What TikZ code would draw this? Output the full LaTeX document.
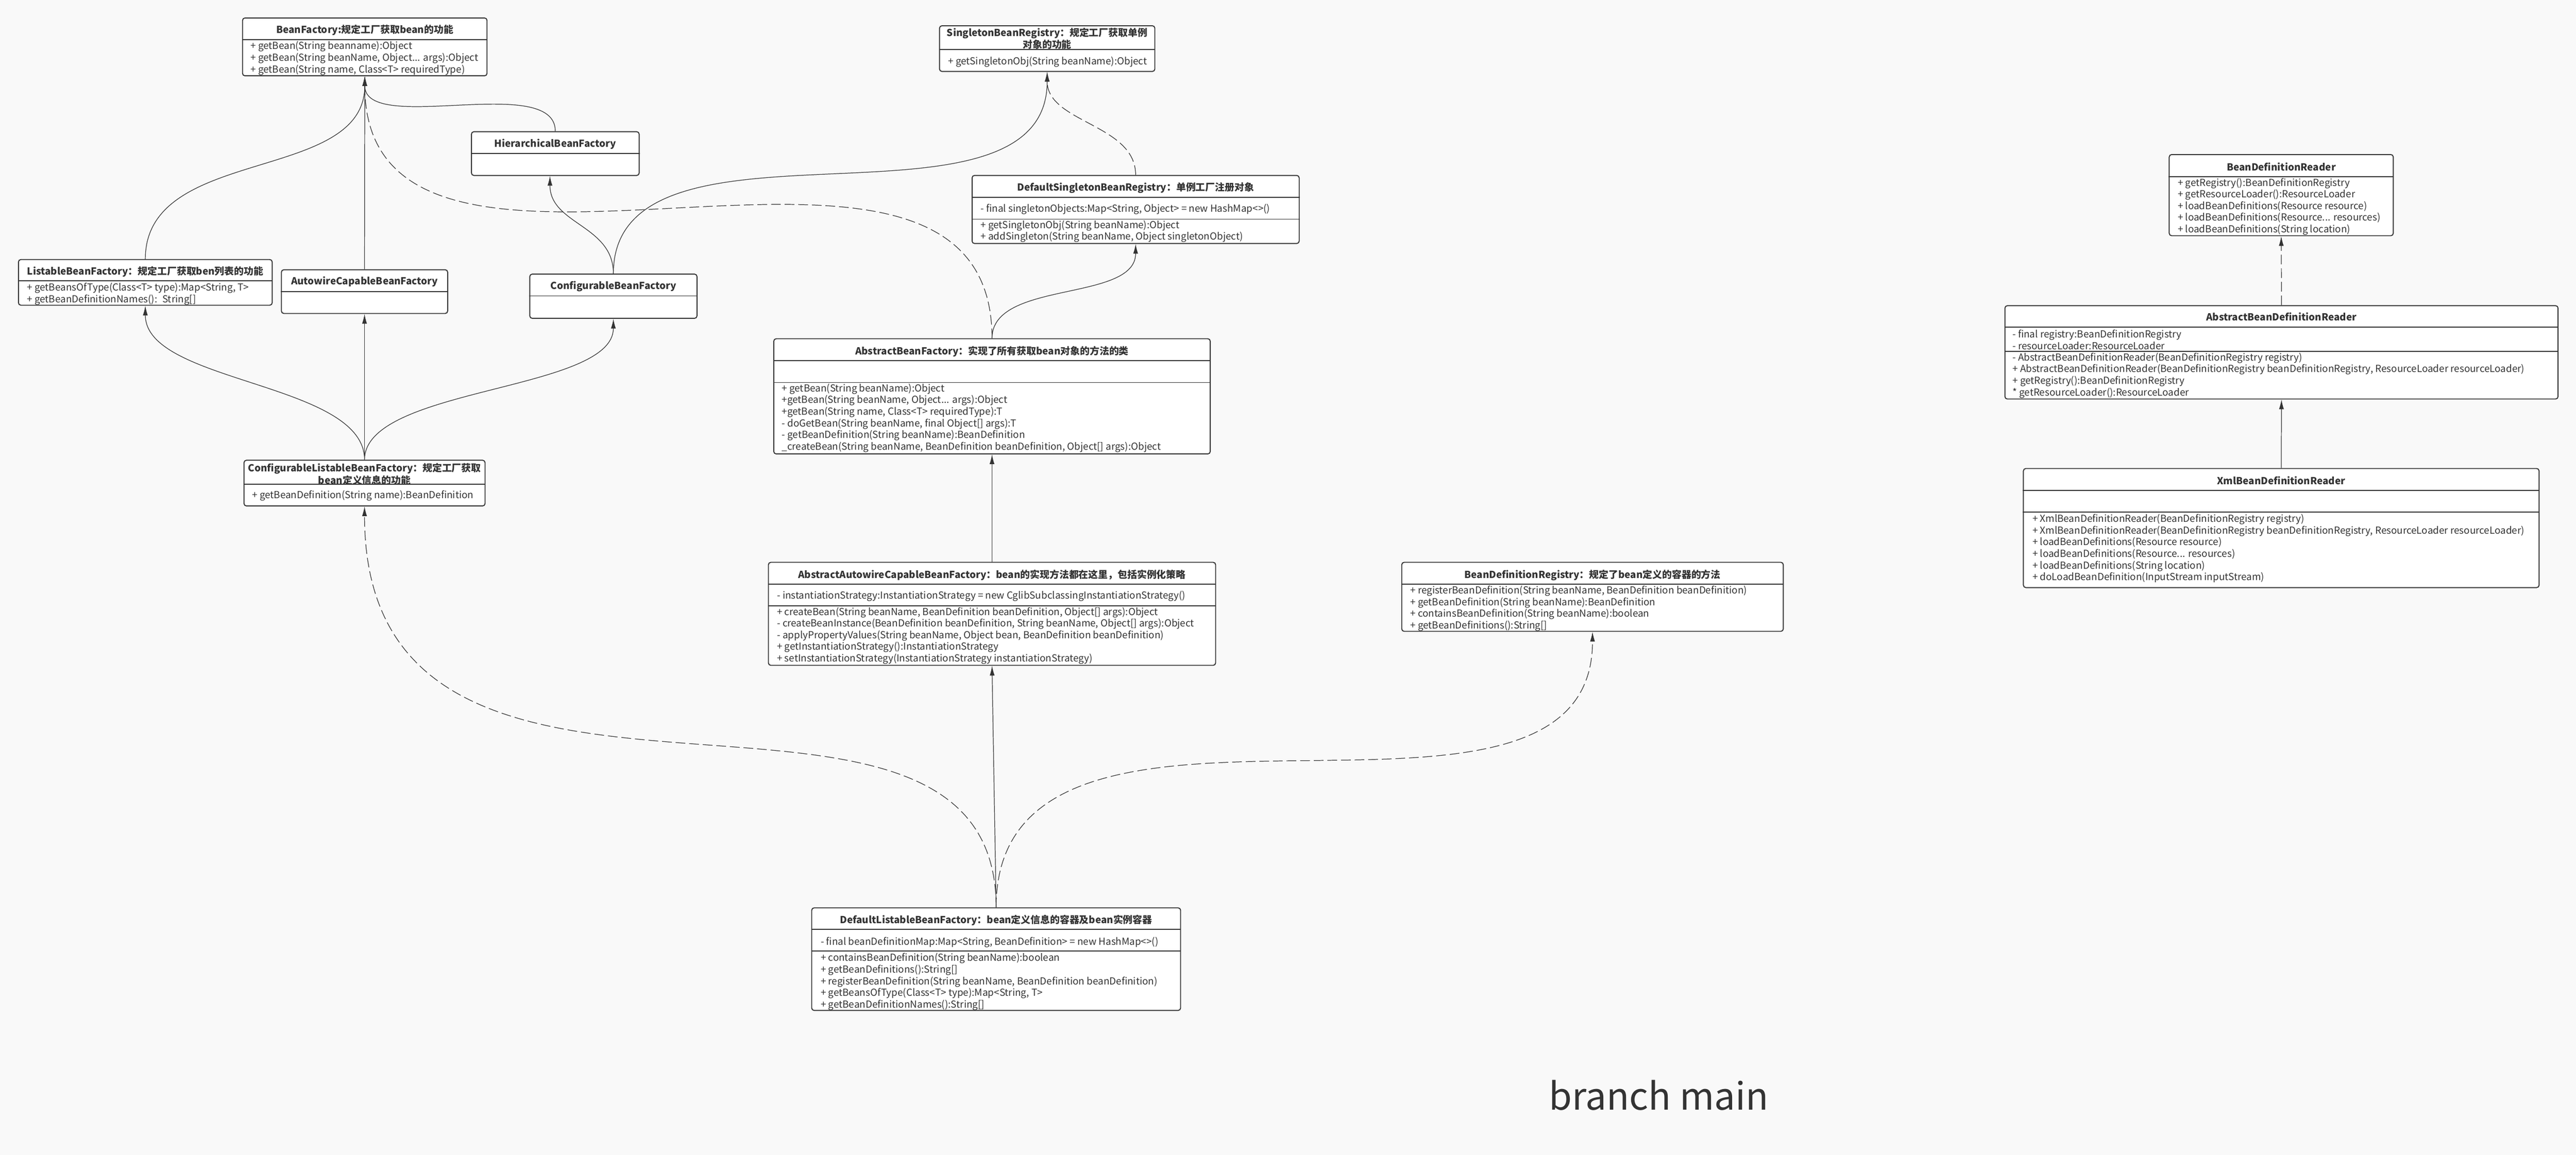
\documentclass[tikz,border=0pt]{standalone}
\usepackage{fontspec}
\setmainfont{Noto Sans CJK SC}
\usepackage{xcolor}
\usepackage{tikz}
\usetikzlibrary{arrows.meta}
\definecolor{linegray}{HTML}{333333}
\definecolor{textgray}{HTML}{333333}
\definecolor{bgcol}{HTML}{F9F9F9}
\tikzset{>={Latex[length=0.2cm,width=0.1cm]}}
\tikzset{
	cls/.style={draw=linegray,fill=white,line width=0.02cm,rounded corners=0.05cm,inner sep=0pt},
	ttl/.style={font=\fontsize{5.69pt}{6.83pt}\selectfont\bfseries,text=textgray,inner sep=0pt,align=center},
	mth/.style={font=\fontsize{5.69pt}{6.83pt}\selectfont,text=textgray,inner sep=0pt,align=left,anchor=west},
	divline/.style={draw=linegray,line width=0.02cm},
	extline/.style={->,draw=linegray,line width=0.013cm},
	implline/.style={extline,dash pattern=on 0.2cm off 0.08cm},
}

\begin{document}
\begin{tikzpicture}
	\useasboundingbox (0,0) rectangle (53,-23.76);
	\fill[bgcol] (0,0) rectangle (53,-23.76);
	% BeanFactory
	\node[cls,minimum width=5.03cm,minimum height=1.19cm] (bf) at (7.505,-0.965) {};
	\node[ttl] (bf-t) at (7.505,-0.62) {BeanFactory:规定工厂获取bean的功能};
	\draw[divline] (bf.west |- 0,-0.82) -- (bf.east |- 0,-0.82);
	\node[mth] (bf-m) at (5.15,-1.20) {+ getBean(String beanname):Object\\+ getBean(String beanName, Object... args):Object\\+ getBean(String name, Class<T> requiredType)};
	% SingletonBeanRegistry
	\node[cls,minimum width=4.43cm,minimum height=0.94cm] (sbr) at (21.545,-1.00) {};
	\node[ttl] (sbr-t) at (21.545,-0.79) {SingletonBeanRegistry：规定工厂获取单例\\对象的功能};
	\draw[divline] (sbr.west |- 0,-1.02) -- (sbr.east |- 0,-1.02);
	\node[mth] (sbr-m) at (19.50,-1.27) {+ getSingletonObj(String beanName):Object};
	% HierarchicalBeanFactory
	\node[cls,minimum width=3.45cm,minimum height=0.90cm] (hbf) at (11.425,-3.16) {};
	\node[ttl] (hbf-t) at (11.425,-2.96) {HierarchicalBeanFactory};
	\draw[divline] (hbf.west |- 0,-3.16) -- (hbf.east |- 0,-3.16);
	% DefaultSingletonBeanRegistry
	\node[cls,minimum width=6.73cm,minimum height=1.40cm] (dsbr) at (23.365,-4.31) {};
	\node[ttl] (dsbr-t) at (23.365,-3.87) {DefaultSingletonBeanRegistry：单例工厂注册对象};
	\draw[divline] (dsbr.west |- 0,-4.06) -- (dsbr.east |- 0,-4.06);
	\node[mth] (dsbr-f) at (20.17,-4.30) {- final singletonObjects:Map<String, Object> = new HashMap<>()};
	\draw[divline] (dsbr.west |- 0,-4.51) -- (dsbr.east |- 0,-4.51);
	\node[mth] (dsbr-m) at (20.17,-4.76) {+ getSingletonObj(String beanName):Object\\+ addSingleton(String beanName, Object singletonObject)};
	% ListableBeanFactory
	\node[cls,minimum width=5.22cm,minimum height=0.94cm] (lbf) at (2.99,-5.81) {};
	\node[ttl] (lbf-t) at (2.99,-5.59) {ListableBeanFactory：规定工厂获取ben列表的功能};
	\draw[divline] (lbf.west |- 0,-5.78) -- (lbf.east |- 0,-5.78);
	\node[mth] (lbf-m) at (0.55,-6.05) {+ getBeansOfType(Class<T> type):Map<String, T>\\+ getBeanDefinitionNames():~ String[]};
	% AutowireCapableBeanFactory
	\node[cls,minimum width=3.42cm,minimum height=0.90cm] (acbf) at (7.50,-6.00) {};
	\node[ttl] (acbf-t) at (7.50,-5.79) {AutowireCapableBeanFactory};
	\draw[divline] (acbf.west |- 0,-6.00) -- (acbf.east |- 0,-6.00);
	% ConfigurableBeanFactory
	\node[cls,minimum width=3.44cm,minimum height=0.91cm] (cbf) at (12.62,-6.095) {};
	\node[ttl] (cbf-t) at (12.62,-5.89) {ConfigurableBeanFactory};
	\draw[divline] (cbf.west |- 0,-6.09) -- (cbf.east |- 0,-6.09);
	% AbstractBeanFactory
	\node[cls,minimum width=8.98cm,minimum height=2.37cm] (abf) at (20.41,-8.155) {};
	\node[ttl] (abf-t) at (20.41,-7.23) {AbstractBeanFactory：实现了所有获取bean对象的方法的类};
	\draw[divline] (abf.west |- 0,-7.42) -- (abf.east |- 0,-7.42);
	\draw[divline] (abf.west |- 0,-7.87) -- (abf.east |- 0,-7.87);
	\node[mth] (abf-m) at (16.08,-8.60) {+ getBean(String beanName):Object\\+getBean(String beanName, Object... args):Object\\+getBean(String name, Class<T> requiredType):T\\- doGetBean(String beanName, final Object[] args):T\\- getBeanDefinition(String beanName):BeanDefinition\\\_createBean(String beanName, BeanDefinition beanDefinition, Object[] args):Object};
	% ConfigurableListableBeanFactory
	\node[cls,minimum width=4.96cm,minimum height=0.94cm] (clbf) at (7.50,-9.94) {};
	\node[ttl,font=\fontsize{5.69pt}{5.12pt}\selectfont\bfseries] (clbf-t) at (7.50,-9.755) {ConfigurableListableBeanFactory：规定工厂获取\\bean定义信息的功能};
	\draw[divline] (clbf.west |- 0,-9.96) -- (clbf.east |- 0,-9.96);
	\node[mth] (clbf-m) at (5.18,-10.20) {+ getBeanDefinition(String name):BeanDefinition};
	% AbstractAutowireCapableBeanFactory
	\node[cls,minimum width=9.20cm,minimum height=2.12cm] (aacbf) at (20.41,-12.63) {};
	\node[ttl] (aacbf-t) at (20.41,-11.83) {AbstractAutowireCapableBeanFactory：bean的实现方法都在这里，包括实例化策略};
	\draw[divline] (aacbf.west |- 0,-12.02) -- (aacbf.east |- 0,-12.02);
	\node[mth] (aacbf-f) at (15.98,-12.27) {- instantiationStrategy:InstantiationStrategy = new CglibSubclassingInstantiationStrategy()};
	\draw[divline] (aacbf.west |- 0,-12.47) -- (aacbf.east |- 0,-12.47);
	\node[mth] (aacbf-m) at (15.98,-13.08) {+ createBean(String beanName, BeanDefinition beanDefinition, Object[] args):Object\\- createBeanInstance(BeanDefinition beanDefinition, String beanName, Object[] args):Object\\- applyPropertyValues(String beanName, Object bean, BeanDefinition beanDefinition)\\+ getInstantiationStrategy():InstantiationStrategy\\+ setInstantiationStrategy(InstantiationStrategy instantiationStrategy)};
	% BeanDefinitionRegistry
	\node[cls,minimum width=7.85cm,minimum height=1.42cm] (bdr) at (32.765,-12.28) {};
	\node[ttl] (bdr-t) at (32.765,-11.84) {BeanDefinitionRegistry：规定了bean定义的容器的方法};
	\draw[divline] (bdr.west |- 0,-12.02) -- (bdr.east |- 0,-12.02);
	\node[mth] (bdr-m) at (29.01,-12.52) {+ registerBeanDefinition(String beanName, BeanDefinition beanDefinition)\\+ getBeanDefinition(String beanName):BeanDefinition\\+ containsBeanDefinition(String beanName):boolean\\+ getBeanDefinitions():String[]};
	% DefaultListableBeanFactory
	\node[cls,minimum width=7.59cm,minimum height=2.11cm] (dlbf) at (20.495,-19.735) {};
	\node[ttl] (dlbf-t) at (20.495,-18.93) {DefaultListableBeanFactory：bean定义信息的容器及bean实例容器};
	\draw[divline] (dlbf.west |- 0,-19.12) -- (dlbf.east |- 0,-19.12);
	\node[mth] (dlbf-f) at (16.88,-19.39) {- final beanDefinitionMap:Map<String, BeanDefinition> = new HashMap<>()};
	\draw[divline] (dlbf.west |- 0,-19.57) -- (dlbf.east |- 0,-19.57);
	\node[mth] (dlbf-m) at (16.88,-20.20) {+ containsBeanDefinition(String beanName):boolean\\+ getBeanDefinitions():String[]\\+ registerBeanDefinition(String beanName, BeanDefinition beanDefinition)\\+ getBeansOfType(Class<T> type):Map<String, T>\\+ getBeanDefinitionNames():String[]};
	% BeanDefinitionReader
	\node[cls,minimum width=4.61cm,minimum height=1.67cm] (bdreader) at (46.935,-4.015) {};
	\node[ttl] (bdreader-t) at (46.935,-3.43) {BeanDefinitionReader};
	\draw[divline] (bdreader.west |- 0,-3.64) -- (bdreader.east |- 0,-3.64);
	\node[mth] (bdreader-m) at (44.80,-4.25) {+ getRegistry():BeanDefinitionRegistry\\+ getResourceLoader():ResourceLoader\\+ loadBeanDefinitions(Resource resource)\\+ loadBeanDefinitions(Resource... resources)\\+ loadBeanDefinitions(String location)};
	% AbstractBeanDefinitionReader
	\node[cls,minimum width=11.38cm,minimum height=1.92cm] (abdr) at (46.94,-7.25) {};
	\node[ttl] (abdr-t) at (46.94,-6.52) {AbstractBeanDefinitionReader};
	\draw[divline] (abdr.west |- 0,-6.73) -- (abdr.east |- 0,-6.73);
	\node[mth] (abdr-f) at (41.40,-6.99) {- final registry:BeanDefinitionRegistry\\- resourceLoader:ResourceLoader};
	\draw[divline] (abdr.west |- 0,-7.23) -- (abdr.east |- 0,-7.23);
	\node[mth] (abdr-m) at (41.40,-7.725) {- AbstractBeanDefinitionReader(BeanDefinitionRegistry registry)\\+ AbstractBeanDefinitionReader(BeanDefinitionRegistry beanDefinitionRegistry, ResourceLoader resourceLoader)\\+ getRegistry():BeanDefinitionRegistry\\* getResourceLoader():ResourceLoader};
	% XmlBeanDefinitionReader
	\node[cls,minimum width=10.61cm,minimum height=2.45cm] (xbdr) at (46.935,-10.865) {};
	\node[ttl] (xbdr-t) at (46.935,-9.89) {XmlBeanDefinitionReader};
	\draw[divline] (xbdr.west |- 0,-10.09) -- (xbdr.east |- 0,-10.09);
	\draw[divline] (xbdr.west |- 0,-10.54) -- (xbdr.east |- 0,-10.54);
	\node[mth] (xbdr-m) at (41.81,-11.285) {+ XmlBeanDefinitionReader(BeanDefinitionRegistry registry)\\+ XmlBeanDefinitionReader(BeanDefinitionRegistry beanDefinitionRegistry, ResourceLoader resourceLoader)\\+ loadBeanDefinitions(Resource resource)\\+ loadBeanDefinitions(Resource... resources)\\+ loadBeanDefinitions(String location)\\+ doLoadBeanDefinition(InputStream inputStream)};
	% connectors
	\draw[extline] (lbf.north) .. controls +(0,2.34) and +(0,-2.21) .. (bf.south);
	\draw[extline] (acbf.north) -- (bf.south);
	\draw[extline] (hbf.north) .. controls +(0,1.21) and +(0,-1.22) .. (bf.south);
	\draw[extline] (cbf.north) .. controls +(0,1) and +(0,-1) .. ([xshift=-0.11cm]hbf.south);
	\draw[extline] (cbf.north) .. controls +(0,3.65) and +(0,-3.65) .. (sbr.south);
	\draw[implline] (abf.north) .. controls +(0,5.97) and +(0,-5.94) .. (bf.south);
	\draw[extline] (abf.north) .. controls +(0,1.2) and +(0,-1.2) .. (dsbr.south);
	\draw[implline] (dsbr.north) .. controls +(0,1.05) and +(0,-1.05) .. (sbr.south);
	\draw[extline] (clbf.north) .. controls +(0,1.6) and +(0,-1.6) .. (lbf.south);
	\draw[extline] (clbf.north) -- (acbf.south);
	\draw[extline] (clbf.north) .. controls +(0,1.5) and +(0,-1.5) .. (cbf.south);
	\draw[extline] (aacbf.north) -- (abf.south);
	\draw[extline] (dlbf.north) -- (aacbf.south);
	\draw[implline] (dlbf.north) .. controls +(0,6.18) and +(0,-8.09) .. (clbf.south);
	\draw[implline] (dlbf.north) .. controls +(0,5.70) and +(0,-5.15) .. (bdr.south);
	\draw[implline] (abdr.north) -- (bdreader.south);
	\draw[extline] (xbdr.north) -- (abdr.south);
	\node[font=\fontsize{21.9pt}{26pt}\selectfont,text=textgray,anchor=base,inner sep=0pt] (branch) at (34.125,-22.84) {branch main};
\end{tikzpicture}
\end{document}
